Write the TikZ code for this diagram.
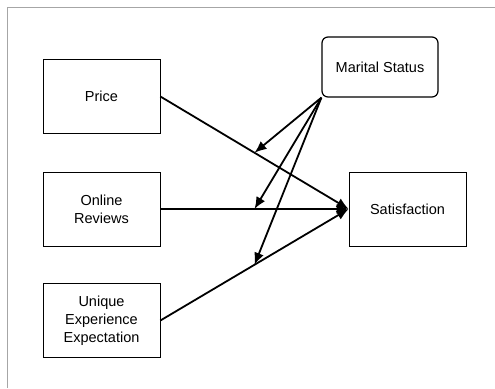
\documentclass[tikz,border=0pt]{standalone}
\usepackage{fontspec}
\setmainfont{Liberation Sans}
\usetikzlibrary{arrows.meta,positioning}
\tikzset{every picture/.style={line width=0.8pt}}
\tikzstyle{var}=[draw,rectangle,minimum width=117pt,minimum height=74pt,align=center,inner sep=2pt,
  font=\fontsize{14.5}{18}\selectfont]
\tikzstyle{moder}=[var,rounded corners=6pt,line width=1.2pt,minimum height=60pt,minimum width=116pt]
\tikzstyle{eff}=[line width=1.8pt,-{Latex[length=12pt,width=10pt]}]

\begin{document}
\begin{tikzpicture}[x=1pt,y=-1pt]
\useasboundingbox (0,0) rectangle (495,388);
\draw[gray!70,line width=1pt] (7,388) -- (7,7) -- (495,7);
\node[var] (P) at (101.5,96.5) {Price};
\node[var] (O) at (101.5,209) {Online\\Reviews};
\node[var] (U) at (101.5,320.5) {Unique\\Experience\\Expectation};
\node[moder] (M) at (380,67) {Marital Status};
\node[var] (S) at (407.5,209) {Satisfaction};
%\node (Mc) at (M.south west) {};
\path[eff]
(P.east) edge coordinate[pos=0.5] (pm) (S.west)
(O.east) edge coordinate[pos=0.5] (om) (S.west)
(U.east) edge coordinate[pos=0.5] (um) (S.west);
\path[eff]
(M.south west) edge (pm)
(M.south west) edge (om)
(M.south west) edge (um);
\end{tikzpicture}
\end{document}
